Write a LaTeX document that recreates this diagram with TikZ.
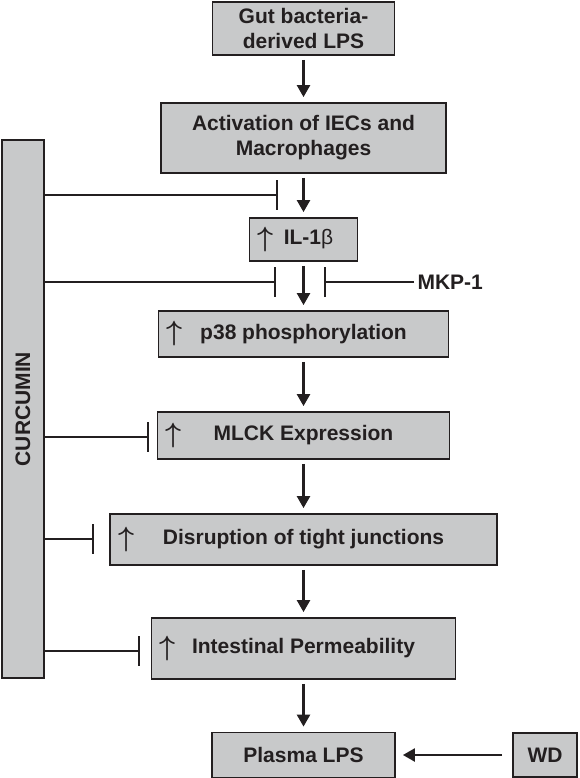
\documentclass[tikz,border=0pt]{standalone}
\usepackage{fontspec}
\setmainfont{Liberation Sans}
\usepackage{tikz}
\usetikzlibrary{arrows.meta}
\definecolor{ink}{HTML}{231F20}
\definecolor{boxfill}{HTML}{C8C9CA}
\newcommand{\uparr}{\scalebox{1.12}{\fontsize{25}{25}\selectfont\boldmath$\uparrow$}}
\tikzset{
  box/.style={draw=ink, fill=boxfill, line width=1.8pt, inner sep=0pt, align=center, text=ink, font=\bfseries\fontsize{21}{25}\selectfont},
  arr/.style={draw=ink, line width=2.4pt, -{Triangle[length=12pt,width=13pt]}, shorten <=4pt, shorten >=5pt},
  inh/.style={draw=ink, line width=1.6pt, -{Bar[width=30pt]}},
  lbl/.style={text=ink, font=\bfseries\fontsize{21}{25}\selectfont},
  raised/.style={label={[anchor=west, inner sep=0pt, xshift=9pt, text=ink]west:\uparr}}
}

\begin{document}
\begin{tikzpicture}[x=1pt, y=-1pt]
  \useasboundingbox (0,0) rectangle (579,778);

  % main column
  \node[box, minimum width=182pt, minimum height=53pt] (gut) at (303.5,28.5) {Gut bacteria-\\derived LPS};
  \node[box, minimum width=285pt, minimum height=70pt] (act) at (303.5,138) {Activation of IECs and\\Macrophages};
  \node[box, raised, minimum width=108pt, minimum height=43pt] (il) at (303.5,239.5) {\hspace*{10pt}IL-1{\mdseries β}};
  \node[box, raised, minimum width=290pt, minimum height=46pt] (p38) at (303.5,334) {p38 phosphorylation};
  \node[box, raised, minimum width=292pt, minimum height=47pt] (mlck) at (303.5,435.5) {MLCK Expression};
  \node[box, raised, minimum width=387pt, minimum height=51pt] (tj) at (303.5,539.5) {Disruption of tight junctions};
  \node[box, raised, minimum width=304pt, minimum height=61pt] (perm) at (303.5,648.5) {Intestinal Permeability};
  \node[box, minimum width=183pt, minimum height=45pt] (plasma) at (303.5,755) {Plasma LPS};
  \node[box, minimum width=64pt, minimum height=44pt] (wd) at (545,755) {WD};

  \node[box, minimum width=42pt, minimum height=538pt] (cur) at (23,409) {\rotatebox{90}{CURCUMIN}};
  \node[lbl, anchor=west] (mkp) at (414,282) {MKP-1};

  \draw[arr] (gut.south) -- (act.north);
  \draw[arr] (act.south) -- (il.north);
  \draw[arr] (il.south) -- (p38.north);
  \draw[arr] (p38.south) -- (mlck.north);
  \draw[arr] (mlck.south) -- (tj.north);
  \draw[arr] (tj.south) -- (perm.north);
  \draw[arr] (perm.south) -- (plasma.north);
  \draw[arr, shorten <=10pt, shorten >=7pt] (wd.west) -- (plasma.east);

  % inhibition
  \coordinate (i1) at (278,195);
  \coordinate (i2) at (276,282);
  \coordinate (m1) at (324,282);
  \coordinate (i3) at (149,437);
  \coordinate (i4) at (94,539);
  \coordinate (i5) at (140,651);
  \draw[inh] (cur.east |- i1) -- (i1);
  \draw[inh] (cur.east |- i2) -- (i2);
  \draw[inh] (cur.east |- i3) -- (i3);
  \draw[inh] (cur.east |- i4) -- (i4);
  \draw[inh] (cur.east |- i5) -- (i5);
  \draw[inh] (mkp.west) -- (m1);
\end{tikzpicture}
\end{document}
